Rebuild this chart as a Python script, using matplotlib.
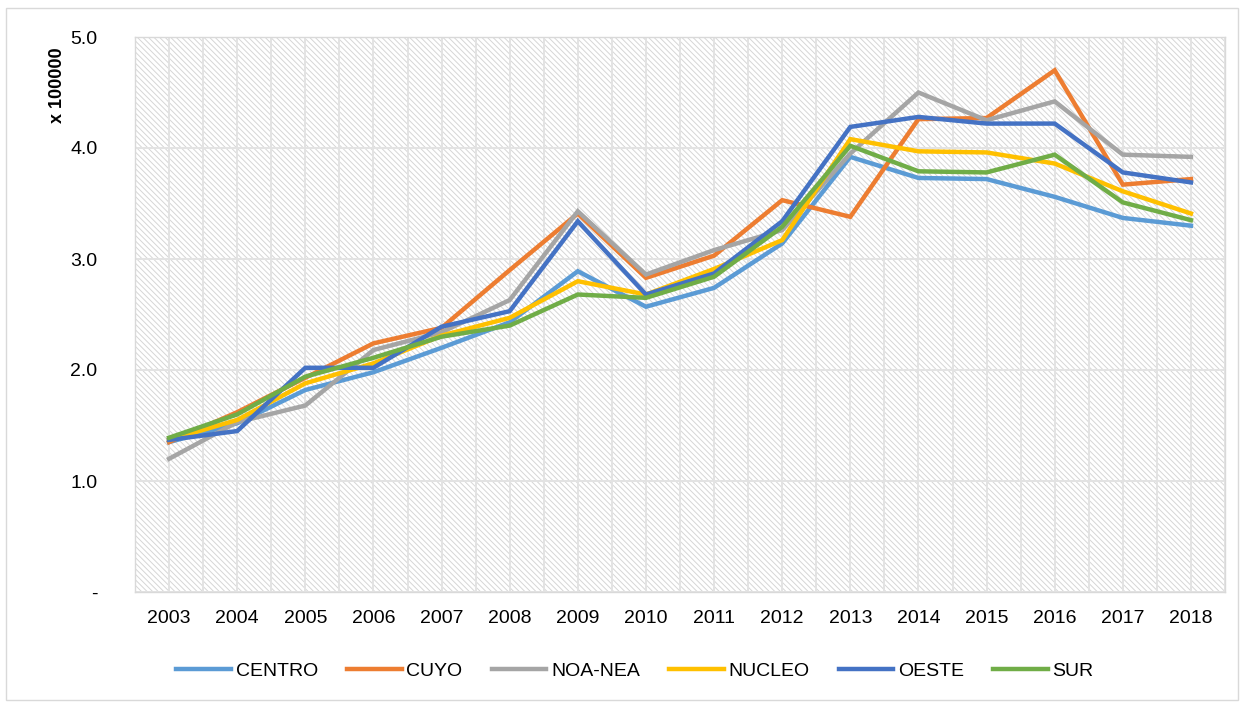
import matplotlib
matplotlib.use("Agg")
import matplotlib.pyplot as plt
from matplotlib.patches import Rectangle
import numpy as np

years = [2003, 2004, 2005, 2006, 2007, 2008, 2009, 2010, 2011, 2012, 2013, 2014, 2015, 2016, 2017, 2018]
centro  = [1.35, 1.52, 1.82, 1.98, 2.20, 2.43, 2.89, 2.57, 2.74, 3.14, 3.92, 3.73, 3.72, 3.56, 3.37, 3.30]
cuyo    = [1.35, 1.62, 1.93, 2.24, 2.38, 2.90, 3.41, 2.83, 3.03, 3.53, 3.38, 4.26, 4.27, 4.70, 3.67, 3.72]
noa_nea = [1.20, 1.53, 1.68, 2.18, 2.34, 2.63, 3.43, 2.86, 3.08, 3.26, 3.95, 4.50, 4.25, 4.42, 3.94, 3.92]
nucleo  = [1.37, 1.55, 1.88, 2.06, 2.31, 2.47, 2.80, 2.68, 2.91, 3.17, 4.08, 3.97, 3.96, 3.86, 3.61, 3.41]
oeste   = [1.37, 1.45, 2.02, 2.02, 2.39, 2.53, 3.34, 2.68, 2.87, 3.34, 4.19, 4.28, 4.22, 4.22, 3.78, 3.69]
sur     = [1.39, 1.60, 1.94, 2.11, 2.30, 2.40, 2.68, 2.65, 2.84, 3.29, 4.02, 3.79, 3.78, 3.94, 3.51, 3.35]

series_names = ["CENTRO", "CUYO", "NOA-NEA", "NUCLEO", "OESTE", "SUR"]
series_data = [centro, cuyo, noa_nea, nucleo, oeste, sur]
colors = ["#5B9BD5", "#ED7D31", "#A5A5A5", "#FFC000", "#4472C4", "#70AD47"]
yticks = [0, 1, 2, 3, 4, 5]
ytick_labels = ["-", "1.0", "2.0", "3.0", "4.0", "5.0"]

plt.rcParams['font.family'] = ['Liberation Sans', 'DejaVu Sans']
plt.rcParams['hatch.linewidth'] = 0.7
plt.rcParams['hatch.color'] = '#D6D6D6'

fig = plt.figure(figsize=(12.44, 7.04), dpi=100)
ax = fig.add_axes([135/1244, 1-592/704, (1225-135)/1244, (592-37)/704])

# hatched background
bg = Rectangle((0, 0), 1, 1, transform=ax.transAxes, facecolor='white',
               edgecolor='#D6D6D6', hatch='\\\\\\\\\\\\', linewidth=0, zorder=0)
ax.add_patch(bg)

x = np.arange(len(years))
for name, data, c in zip(series_names, series_data, colors):
    ax.plot(x, data, color=c, lw=3.2, label=name, zorder=3, solid_joinstyle='miter')

ax.set_xlim(-0.5, len(years) - 0.5)
ax.set_ylim(0, 5)
ax.set_xticks(x)
ax.set_xticklabels([str(y) for y in years], fontsize=14)
ax.set_yticks(yticks)
ax.set_yticklabels(ytick_labels, fontsize=14)
ax.tick_params(axis='both', length=0)
ax.tick_params(axis='y', pad=27)
ax.tick_params(axis='x', pad=13)

# gridlines: vertical at every half category, horizontal at majors
for v in np.arange(-0.5, len(years), 0.5):
    ax.axvline(v, color='#E3E3E3', lw=1.4, zorder=1)
for h in yticks:
    ax.axhline(h, color='#E3E3E3', lw=1.4, zorder=1)

for s in ax.spines.values():
    s.set_color('#D9D9D9')
    s.set_linewidth(1.0)

fig.text(57/1244, 1-85/704, "x 100000", rotation=90, fontsize=13,
         fontweight='bold', ha='center', va='center')

leg = fig.legend(loc='center', bbox_to_anchor=(635/1244, 33/704), ncol=6,
                 frameon=False, fontsize=14, handlelength=2.8, handletextpad=0.25,
                 columnspacing=1.5)
for line in leg.get_lines():
    line.set_linewidth(3.2)

fig.add_artist(Rectangle((6/1244, 4/704), 1232/1244, 692/704, transform=fig.transFigure,
                         fill=False, edgecolor='#D9D9D9', lw=1.0))

fig.savefig("out.png", dpi=100)
